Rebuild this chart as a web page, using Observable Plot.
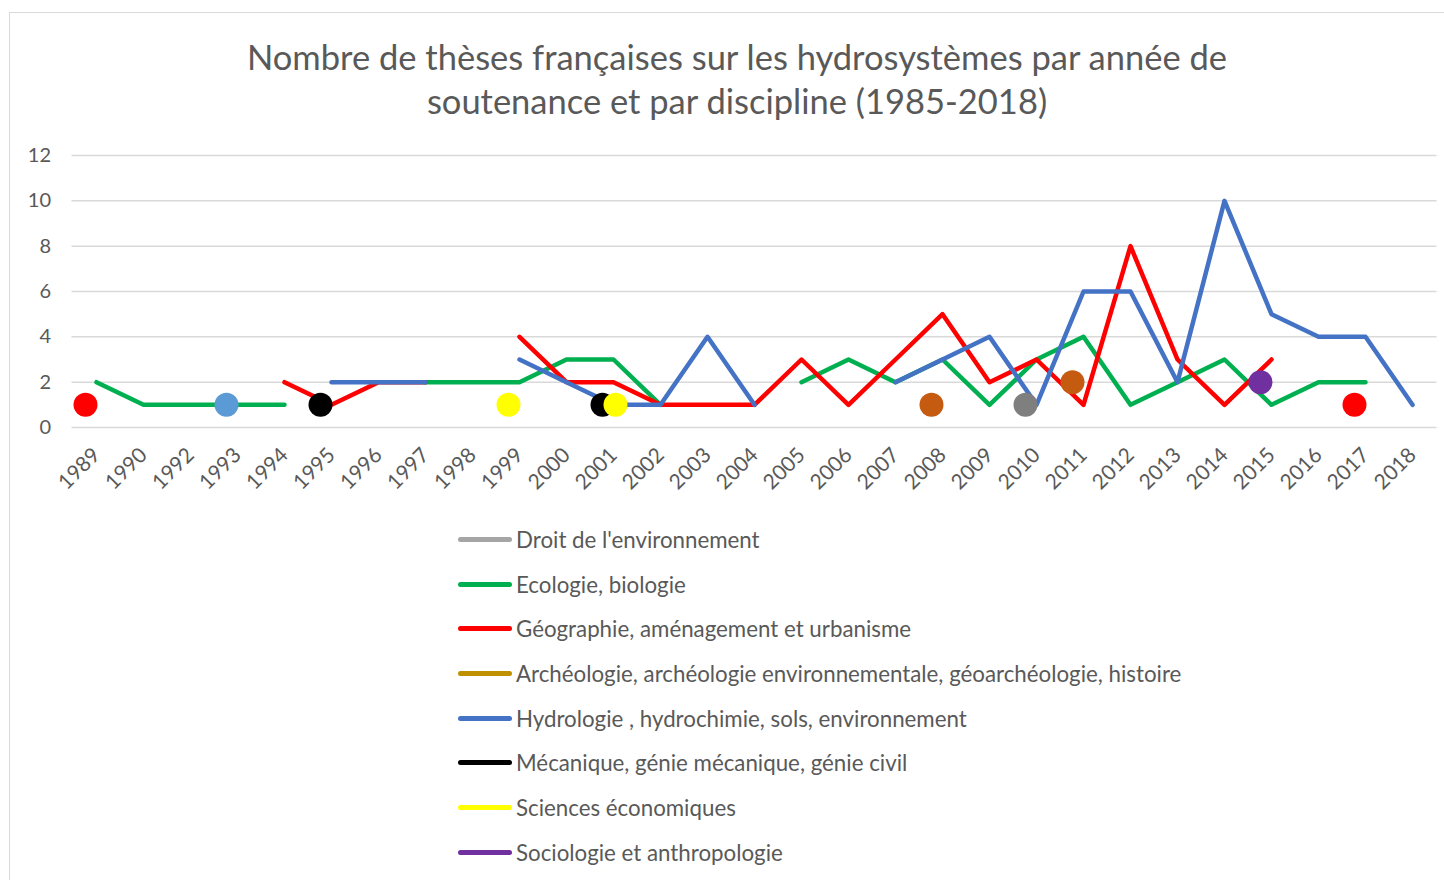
<!DOCTYPE html>
<html><head><meta charset="utf-8">
<script src="https://cdn.jsdelivr.net/npm/d3@7"></script>
<script src="https://cdn.jsdelivr.net/npm/@observablehq/plot@0.6"></script>
<style>
body{margin:0;background:#fff;font-family:Lato,"Open Sans",sans-serif;width:1444px;height:880px;overflow:hidden;position:relative;}
#frame{position:absolute;left:9px;top:12px;width:1500px;height:900px;border:1.5px solid #d9d9d9;box-sizing:border-box;}
#title{position:absolute;left:0;width:1474px;top:35px;text-align:center;font-size:34.5px;line-height:44px;color:#595959;}
#chart{position:absolute;left:0;top:130px;}
#legend{position:absolute;left:458px;top:517px;}
.item{height:44.7px;display:flex;align-items:center;font-size:22.3px;color:#595959;}
.sw{display:inline-block;width:54px;height:5px;border-radius:3px;margin-right:4px;}
</style>
</head><body>
<div id="frame"></div>
<div id="title">Nombre de thèses françaises sur les hydrosystèmes par année de<br>soutenance et par discipline (1985-2018)</div>
<div id="chart"></div>
<div id="legend"></div>
<script>
const years = ["1989","1990","1992","1993","1994","1995","1996","1997","1998","1999","2000","2001","2002","2003","2004","2005","2006","2007","2008","2009","2010","2011","2012","2013","2014","2015","2016","2017","2018"];
const disciplines = ["Droit de l'environnement","Ecologie, biologie","Géographie, aménagement et urbanisme","Archéologie, archéologie environnementale, géoarchéologie, histoire","Hydrologie , hydrochimie, sols, environnement","Mécanique, génie mécanique, génie civil","Sciences économiques","Sociologie et anthropologie"];
const lineColors = ["#a5a5a5","#00b050","#ff0000","#bf9000","#4472c4","#000000","#ffff00","#7030a0"];
const dotColors  = ["#7f7f7f","#00b050","#ff0000","#c55a11","#5b9bd5","#000000","#ffff00","#7030a0"];
const _ = null;
//                 1989 1990 1992 1993 1994 1995 1996 1997 1998 1999 2000 2001 2002 2003 2004 2005 2006 2007 2008 2009 2010 2011 2012 2013 2014 2015 2016 2017 2018
const droit      = [_,   _,   _,   _,   _,   _,   _,   _,   _,   _,   _,   _,   _,   _,   _,   _,   _,   _,   _,   _,   1,   _,   _,   _,   _,   _,   _,   _,   _];
const ecologie   = [2,   1,   1,   1,   1,   _,   _,   2,   2,   2,   3,   3,   1,   _,   _,   2,   3,   2,   3,   1,   3,   4,   1,   2,   3,   1,   2,   2,   _];
const geographie = [1,   _,   _,   _,   2,   1,   2,   2,   _,   4,   2,   2,   1,   1,   1,   3,   1,   3,   5,   2,   3,   1,   8,   3,   1,   3,   _,   1,   _];
const archeologie= [_,   _,   _,   _,   _,   _,   _,   _,   _,   _,   _,   _,   _,   _,   _,   _,   _,   _,   1,   _,   _,   2,   _,   _,   _,   _,   _,   _,   _];
const hydrologie = [_,   _,   _,   1,   _,   2,   2,   2,   _,   3,   2,   1,   1,   4,   1,   _,   _,   2,   3,   4,   1,   6,   6,   2,  10,   5,   4,   4,   1];
const mecanique  = [_,   _,   _,   _,   _,   1,   _,   _,   _,   _,   _,   1,   _,   _,   _,   _,   _,   _,   _,   _,   _,   _,   _,   _,   _,   _,   _,   _,   _];
const economie   = [_,   _,   _,   _,   _,   _,   _,   _,   _,   1,   _,   1,   _,   _,   _,   _,   _,   _,   _,   _,   _,   _,   _,   _,   _,   _,   _,   _,   _];
const sociologie = [_,   _,   _,   _,   _,   _,   _,   _,   _,   _,   _,   _,   _,   _,   _,   _,   _,   _,   _,   _,   _,   _,   _,   _,   _,   2,   _,   _,   _];
const yTicks = [0,2,4,6,8,10,12];

const seriesValues = [droit, ecologie, geographie, archeologie, hydrologie, mecanique, economie, sociologie];

const rows = [];
seriesValues.forEach((vals, i) => vals.forEach((v, j) => {
  const isolated = v != null &&
    (j === 0 || vals[j-1] == null) &&
    (j === vals.length-1 || vals[j+1] == null);
  rows.push({d: disciplines[i], i, year: years[j], j, value: v, isolated});
}));

// isolated values are drawn as markers, connected values as lines
const dots = rows.filter(r => r.isolated);
const seen = {};
dots.forEach(r => { seen[r.year] = (seen[r.year] || 0); r.rank = seen[r.year]++; });

const lineMarks = seriesValues.map((vals, i) =>
  Plot.line(rows.filter(r => r.i === i).map(r => ({...r, value: r.isolated ? NaN : r.value})),
    {x: "year", y: "value", stroke: lineColors[i], strokeWidth: 4.5, strokeLinecap: "round", strokeLinejoin: "round"}));

const dotMarks = [0,1].map(rank =>
  Plot.dot(dots.filter(r => r.rank === rank), {x: "year", y: "value", r: 12, fill: r => dotColors[r.i], stroke: "none", dx: -11 + rank*13}));

const chart = Plot.plot({
  width: 1444, height: 375,
  marginLeft: 71.5, marginRight: 7.5, marginTop: 25, marginBottom: 78,
  style: {fontFamily: "Lato, 'Open Sans', sans-serif", fontSize: "20px", color: "#595959", background: "transparent", overflow: "visible"},
  x: {type: "point", domain: years, padding: 0.5, label: null, tickSize: 0, tickRotate: -45, tickPadding: 24},
  y: {domain: [0, 12], ticks: yTicks, label: null, tickSize: 0, tickPadding: 21},
  color: {type: "identity"},
  marks: [
    Plot.ruleY(yTicks, {stroke: "#d9d9d9", strokeWidth: 1.5}),
    ...lineMarks,
    ...dotMarks
  ]
});
chart.querySelectorAll("[aria-label='x-axis tick label'] text, g[aria-label='x-axis tick label']").forEach(g => { g.style.fontSize = "21px"; });
document.getElementById("chart").appendChild(chart);

const legend = document.getElementById("legend");
disciplines.forEach((name, i) => {
  const item = document.createElement("div");
  item.className = "item";
  const sw = document.createElement("span");
  sw.className = "sw";
  sw.style.background = lineColors[i];
  item.appendChild(sw);
  item.appendChild(document.createTextNode(name));
  legend.appendChild(item);
});
</script>
</body></html>
